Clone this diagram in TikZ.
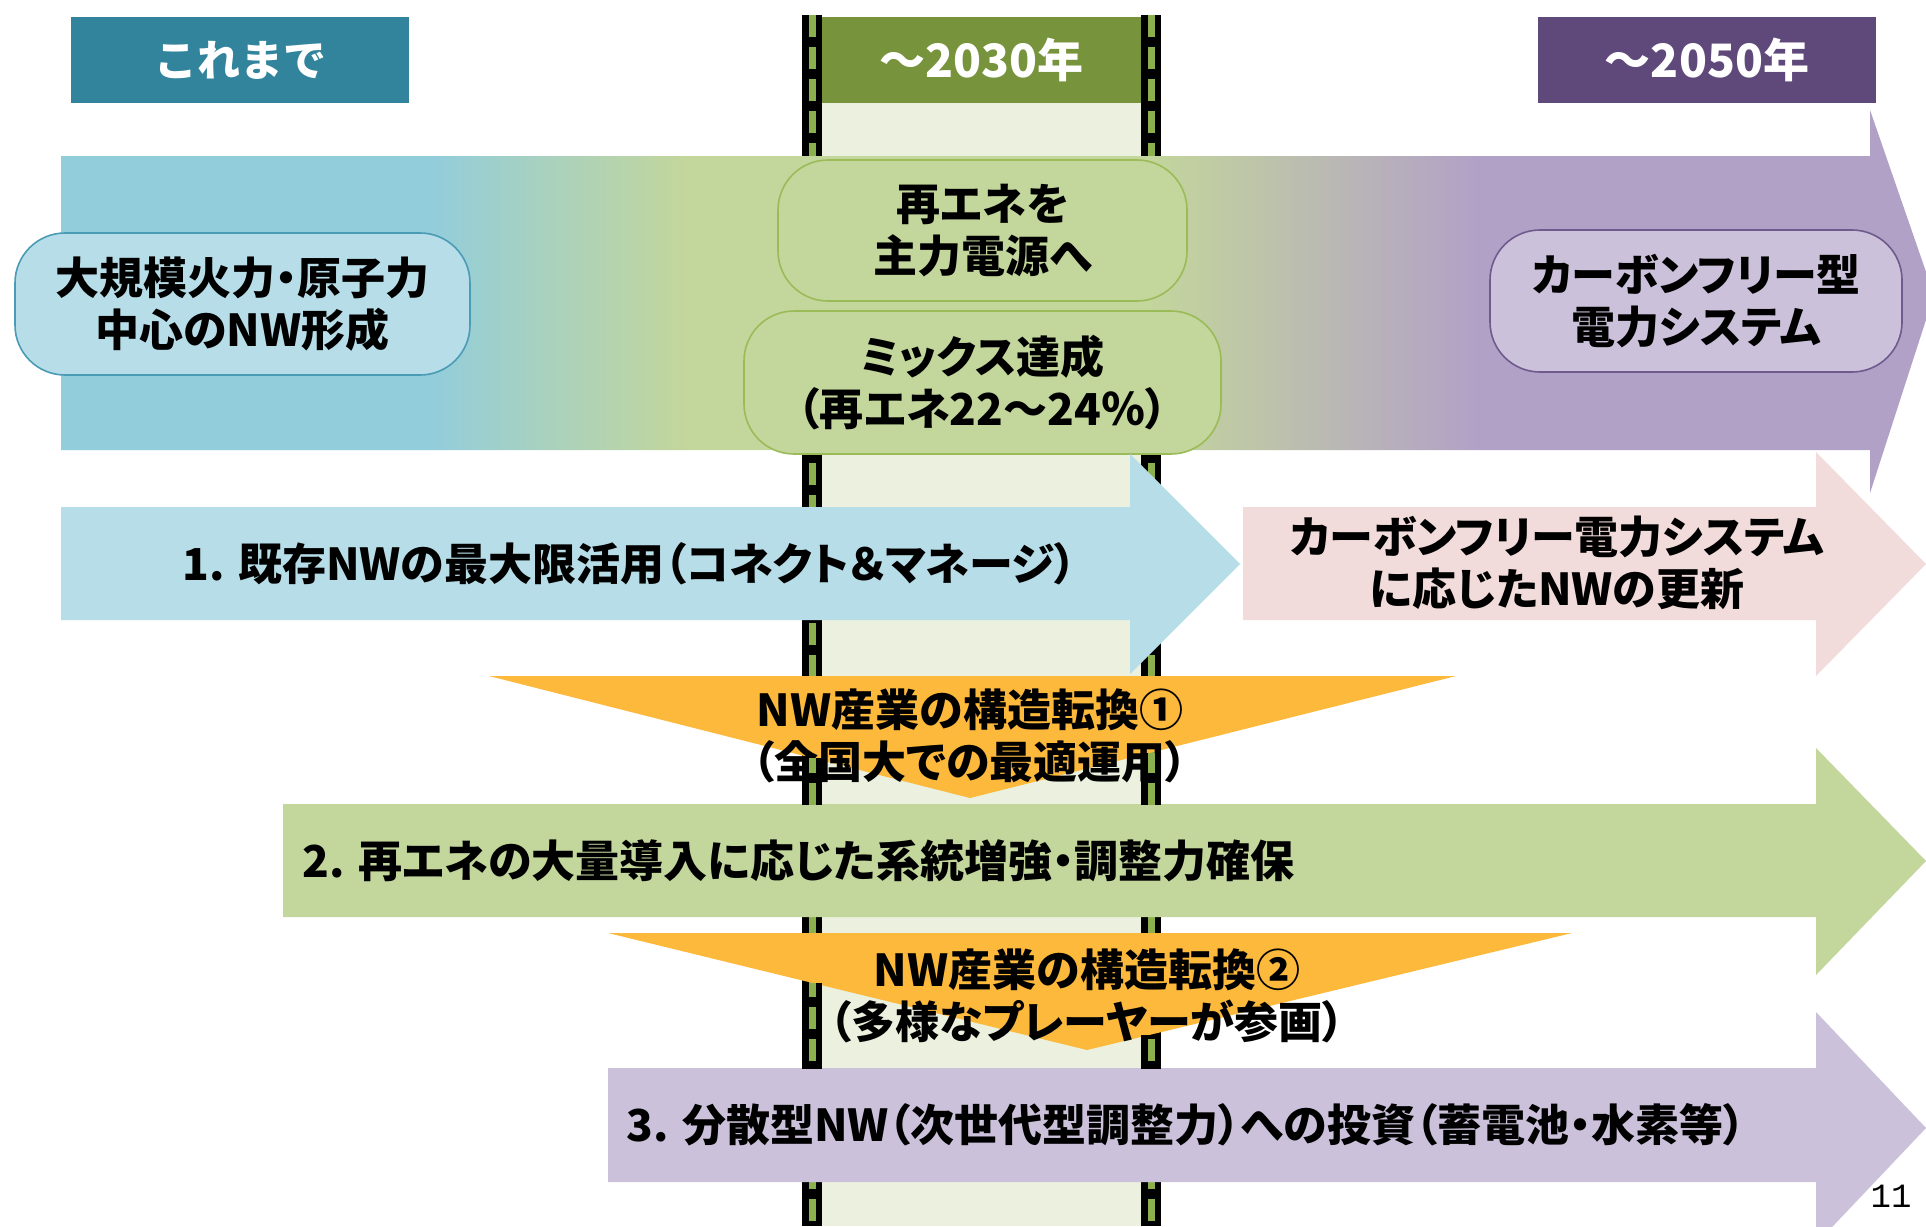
\documentclass[tikz,border=0pt]{standalone}
\usepackage{fontspec}
\setmainfont{Noto Sans CJK JP}[RawFeature=+palt]
\newfontfamily\hdrfont{Noto Sans CJK JP}
\newfontfamily\pnumfont{Liberation Mono}
\definecolor{hdrteal}{HTML}{31849B}
\definecolor{hdrgreen}{HTML}{77933C}
\definecolor{hdrpurple}{HTML}{5F497A}
\definecolor{colfill}{HTML}{EBF1DE}
\definecolor{coldash}{HTML}{8DB04E}
\definecolor{gblue}{HTML}{92CDDC}
\definecolor{ggreen}{HTML}{C3D69B}
\definecolor{gpurple}{HTML}{B2A1C7}
\definecolor{ovblue}{HTML}{B7DEE8}
\definecolor{ovblueline}{HTML}{4A9BB5}
\definecolor{ovgreen}{HTML}{C3D69B}
\definecolor{ovgreenline}{HTML}{9BBB59}
\definecolor{ovpurple}{HTML}{CCC1DA}
\definecolor{ovpurpleline}{HTML}{6E5A8C}
\definecolor{apink}{HTML}{F2DCDB}
\definecolor{aorange}{HTML}{FDB93C}
\pgfdeclarehorizontalshading{topgrad}{100bp}{color(0bp)=(gblue); color(34.8bp)=(gblue); color(41.7bp)=(ggreen); color(54bp)=(ggreen); color(62.8bp)=(gpurple); color(100bp)=(gpurple)}
\begin{document}
\begin{tikzpicture}[x=0.5pt,y=-0.5pt,
  every node/.style={font=\bfseries\fontsize{22}{26}\selectfont, inner sep=0pt},
  hdr/.style={minimum height=43pt, text=white, font=\hdrfont\bfseries\fontsize{21.5}{24}\selectfont},
  hdryear/.style={hdr, font=\hdrfont\bfseries\fontsize{23}{26}\selectfont},
  oval/.style={rounded corners=25pt, line width=0.8pt, minimum height=71pt, align=center},
  colblack/.style={line width=10pt, black},
  coldashed/.style={line width=3.5pt, coldash, dash pattern=on 11pt off 5pt},
  lbl/.style={align=center, text=black}
]
\useasboundingbox (0,0) rectangle (1926,1226);
\clip (0,0) rectangle (1926,1226);
\fill[white] (0,0) rectangle (1926,1226);

% 2030 column
\fill[colfill] (812,103) rectangle (1151,1226);
\node[hdryear, fill=hdrgreen, minimum width=169.5pt] (h2030) at (981.5,60) {～2030年};
\draw[colblack] (812,15) -- (812,1226);
\draw[coldashed] (812,15) -- (812,1226);
\draw[colblack] (1151,15) -- (1151,1226);
\draw[coldashed] (1151,15) -- (1151,1226);

% headers
\node[hdr, fill=hdrteal, minimum width=169pt] (hpast) at (240,60) {これまで};
\node[hdryear, fill=hdrpurple, minimum width=169pt] (h2050) at (1707,60) {～2050年};

% top gradient arrow
\shade[shading=topgrad] (61,156) -- (1870,156) -- (1870,110) -- (1934,295) -- (1870,493) -- (1870,450) -- (61,450) -- cycle;

% ovals
\node[oval, fill=ovblue, draw=ovblueline, minimum width=227.5pt] (ovpast) at (242.5,304) {大規模火力・原子力\\中心のNW形成};
\node[oval, fill=ovgreen, draw=ovgreenline, minimum width=204.5pt, minimum height=70.5pt] (ovmain) at (982.5,230.5) {再エネを\\主力電源へ};
\node[oval, fill=ovgreen, draw=ovgreenline, minimum width=238.5pt, minimum height=71.5pt] (ovmix) at (982.5,382.5) {ミックス達成\\（再エネ22～24％）};
\node[oval, fill=ovpurple, draw=ovpurpleline, minimum width=206pt] (ovfree) at (1696,301) {カーボンフリー型\\電力システム};

% arrow 1
\fill[ovblue] (61,507) -- (1130,507) -- (1130,454) -- (1240,564) -- (1130,674) -- (1130,620) -- (61,620) -- cycle;
\node[lbl, anchor=west] (t1) at (182,564) {1. 既存NWの最大限活用（コネクト＆マネージ）};
% pink arrow
\fill[apink] (1243,507) -- (1816,507) -- (1816,452) -- (1926,564) -- (1816,676) -- (1816,620) -- (1243,620) -- cycle;
\node[lbl] (tpink) at (1557,563) {カーボンフリー電力システム\\に応じたNWの更新};
% arrow 2
\fill[ggreen] (283,804) -- (1816,804) -- (1816,748) -- (1926,861) -- (1816,975) -- (1816,917) -- (283,917) -- cycle;
\node[lbl, anchor=west] (t2) at (302,861) {2. 再エネの大量導入に応じた系統増強・調整力確保};
% arrow 3
\fill[ovpurple] (608,1068) -- (1816,1068) -- (1816,1012) -- (1926,1128) -- (1816,1244) -- (1816,1182) -- (608,1182) -- cycle;
\node[lbl, anchor=west] (t3) at (626,1125) {3. 分散型NW（次世代型調整力）への投資（蓄電池・水素等）};

% chevrons
\fill[aorange] (489,676) -- (1456,676) -- (970,798) -- cycle;
\node[lbl] (c1) at (970,736) {NW産業の構造転換①\\（全国大での最適運用）};
\fill[aorange] (608,933) -- (1572,933) -- (1087,1050) -- cycle;
\node[lbl] (c2) at (1087,996) {NW産業の構造転換②\\（多様なプレーヤーが参画）};

% column lines passing over the chevron texts
\begin{scope}
\clip (790,758) rectangle (835,804);
\draw[colblack] (812,15) -- (812,1226);
\draw[coldashed] (812,15) -- (812,1226);
\end{scope}
\begin{scope}
\clip (1129,753) rectangle (1173,804);
\draw[colblack] (1151,15) -- (1151,1226);
\draw[coldashed] (1151,15) -- (1151,1226);
\end{scope}
\begin{scope}
\clip (790,983) rectangle (835,1068);
\draw[colblack] (812,15) -- (812,1226);
\draw[coldashed] (812,15) -- (812,1226);
\end{scope}
\begin{scope}
\clip (1129,1035) rectangle (1173,1068);
\draw[colblack] (1151,15) -- (1151,1226);
\draw[coldashed] (1151,15) -- (1151,1226);
\end{scope}

% page number
\node[font=\pnumfont\fontsize{17}{19}\selectfont] (pnum) at (1891,1196) {11};
\end{tikzpicture}
\end{document}
